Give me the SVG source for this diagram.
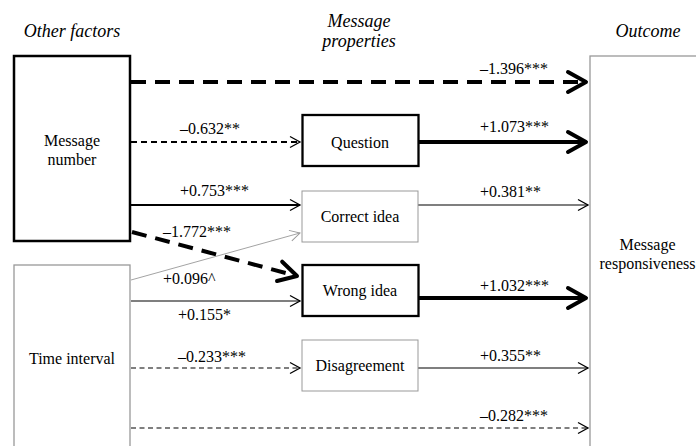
<svg xmlns="http://www.w3.org/2000/svg" width="696" height="446" viewBox="0 0 696 446">
<style>
text{font-family:"Liberation Serif","Times New Roman",serif;font-size:16px;fill:#000}
.hdr{font-style:italic;font-size:18px}
.c{text-anchor:middle}
.thickbox{fill:#fff;stroke:#000;stroke-width:2.5}
.thinbox{fill:#fff;stroke:#999;stroke-width:1.3}
.ln{fill:none;stroke:#000}
.w4{stroke-width:4}
.w2{stroke-width:1.8}
.w1{stroke-width:1.2}
.d4{stroke-dasharray:15 9}
.d2{stroke-dasharray:6 4}
.d1{stroke-dasharray:5 3.5}
.gray{stroke:#999;stroke-width:0.9}
</style>
<defs>
<marker id="big" markerUnits="userSpaceOnUse" markerWidth="40" markerHeight="40" refX="0" refY="0" orient="auto" overflow="visible" viewBox="-30 -20 40 40">
<path d="M-18,-10 L0,0 L-18,10" fill="none" stroke="#000" stroke-width="4" stroke-linecap="round" stroke-linejoin="round"/>
</marker>
<marker id="small" markerUnits="userSpaceOnUse" markerWidth="20" markerHeight="20" refX="0" refY="0" orient="auto" overflow="visible" viewBox="-15 -10 20 20">
<path d="M-10,-5.5 L0,0 L-10,5.5" fill="none" stroke="#000" stroke-width="1.3"/>
</marker>
<marker id="smallg" markerUnits="userSpaceOnUse" markerWidth="20" markerHeight="20" refX="0" refY="0" orient="auto" overflow="visible" viewBox="-15 -10 20 20">
<path d="M-10,-5.5 L0,0 L-10,5.5" fill="none" stroke="#999" stroke-width="1"/>
</marker>
</defs>

<g id="headers">
<text class="hdr c" x="72" y="37">Other factors</text>
<text class="hdr c" x="359" y="27">Message</text>
<text class="hdr c" x="359" y="47">properties</text>
<text class="hdr c" x="648" y="37">Outcome</text>
</g>

<g id="connectors">
<line class="ln w4 d4" x1="131" y1="82" x2="586" y2="82" marker-end="url(#big)"/>
<line class="ln w2 d2" x1="131" y1="142" x2="300" y2="142" marker-end="url(#small)"/>
<line class="ln w4" x1="419" y1="142" x2="586" y2="142" marker-end="url(#big)"/>
<line class="ln w2" x1="131" y1="205" x2="300" y2="205" marker-end="url(#small)"/>
<line class="ln w1" x1="418" y1="205" x2="588" y2="205" marker-end="url(#small)"/>
<line class="ln w4 d4" x1="132" y1="232" x2="297" y2="276" marker-end="url(#big)"/>
<line class="ln gray" x1="131" y1="280" x2="300" y2="233" marker-end="url(#smallg)"/>
<line class="ln w1" x1="131" y1="301" x2="300" y2="301" marker-end="url(#small)"/>
<line class="ln w4" x1="419" y1="298" x2="586" y2="298" marker-end="url(#big)"/>
<line class="ln w1 d1" x1="131" y1="368" x2="300" y2="368" marker-end="url(#small)"/>
<line class="ln w1" x1="418" y1="368" x2="588" y2="368" marker-end="url(#small)"/>
<line class="ln w1 d1" x1="131" y1="428" x2="588" y2="428" marker-end="url(#small)"/>
</g>

<g id="labels">
<text x="480" y="74">–1.396***</text>
<text x="180" y="134">–0.632**</text>
<text x="480" y="132">+1.073***</text>
<text x="180" y="196">+0.753***</text>
<text x="480" y="197">+0.381**</text>
<text x="163" y="237">–1.772***</text>
<text x="163" y="284">+0.096^</text>
<text x="480" y="291">+1.032***</text>
<text x="178" y="320">+0.155*</text>
<text x="178" y="362">–0.233***</text>
<text x="480" y="361">+0.355**</text>
<text x="480" y="421">–0.282***</text>
</g>

<g id="message-number">
<rect class="thickbox" x="14" y="56" width="116" height="185"/>
<text class="c" x="72" y="146">Message</text>
<text class="c" x="72" y="165">number</text>
</g>

<g id="time-interval">
<rect class="thinbox" x="14" y="265" width="116" height="200"/>
<text class="c" x="72" y="364">Time interval</text>
</g>

<g id="question">
<rect class="thickbox" x="302.5" y="115" width="116" height="51" style="stroke-width:2.3"/>
<text class="c" x="360" y="148">Question</text>
</g>

<g id="correct-idea">
<rect class="thinbox" x="302" y="191" width="116" height="51" style="stroke-width:1"/>
<text class="c" x="360" y="222">Correct idea</text>
</g>

<g id="wrong-idea">
<rect class="thickbox" x="302.5" y="265" width="116" height="51" style="stroke-width:2.3"/>
<text class="c" x="360" y="296">Wrong idea</text>
</g>

<g id="disagreement">
<rect class="thinbox" x="302" y="340" width="116" height="51" style="stroke-width:1"/>
<text class="c" x="360" y="371">Disagreement</text>
</g>

<g id="outcome">
<rect class="thinbox" x="590" y="56" width="200" height="420"/>
<text class="c" x="647.5" y="250">Message</text>
<text class="c" x="647.5" y="269">responsiveness</text>
</g>
</svg>
